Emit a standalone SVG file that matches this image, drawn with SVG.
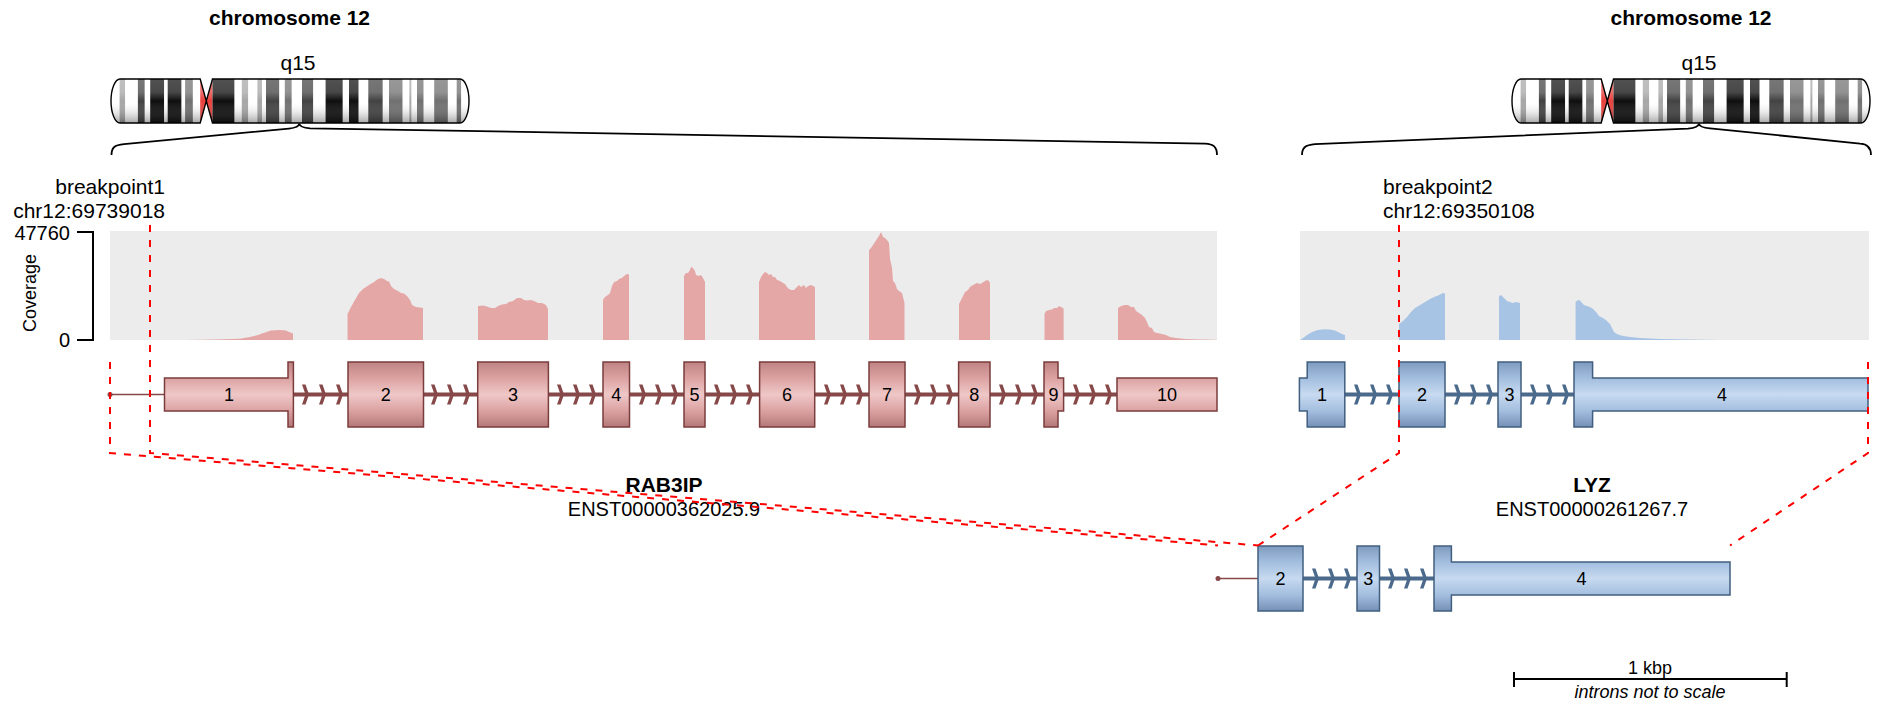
<svg xmlns="http://www.w3.org/2000/svg" width="1878" height="707" viewBox="0 0 1878 707">
<style>
text{font-family:"Liberation Sans",Arial,Helvetica,sans-serif;fill:#000}
.title{font-size:21px;font-weight:bold}
.lbl{font-size:21px}
.num{font-size:20px}
.gname{font-size:21px;font-weight:bold}
.tid{font-size:20px}
.ex{font-size:18px}
.small{font-size:18px}
.gneg{fill:#fff}.g25{fill:#a6a6a6}.g50{fill:#707070}.g75{fill:#424242}.g100{fill:#0e0e0e}.acen{fill:#e8403c}
.exR{fill:url(#gradR);stroke:#7a3c3c;stroke-width:1.5}
.exB{fill:url(#gradB);stroke:#415f80;stroke-width:1.5}
.intR{stroke:#864848;stroke-width:4}
.intB{stroke:#4c6a8c;stroke-width:4}
.lead{stroke:#864848;stroke-width:1.6}
.bp{fill:none;stroke:#ff0000;stroke-width:2;stroke-dasharray:7 8}
.brace{fill:none;stroke:#000;stroke-width:1.8}
.axis{fill:none;stroke:#000;stroke-width:2}
.covR{fill:#e5a6a6}.covB{fill:#a8c4e4}
.panel{fill:#ececec}
</style>
<defs>
  <linearGradient id="gradR" gradientUnits="userSpaceOnUse" x1="0" y1="362" x2="0" y2="427">
    <stop offset="0" stop-color="#bf8383"/><stop offset="0.25" stop-color="#dca2a2"/>
    <stop offset="0.5" stop-color="#efc7c7"/><stop offset="0.75" stop-color="#dca2a2"/>
    <stop offset="1" stop-color="#b37777"/>
  </linearGradient>
  <linearGradient id="gradB" gradientUnits="userSpaceOnUse" x1="0" y1="362" x2="0" y2="427">
    <stop offset="0" stop-color="#7e9bbf"/><stop offset="0.25" stop-color="#a3bedf"/>
    <stop offset="0.5" stop-color="#c7daf0"/><stop offset="0.75" stop-color="#a3bedf"/>
    <stop offset="1" stop-color="#7590b5"/>
  </linearGradient>
  <linearGradient id="shade" x1="0" y1="0" x2="0" y2="1">
    <stop offset="0" stop-color="#fff" stop-opacity="0.28"/>
    <stop offset="0.3" stop-color="#fff" stop-opacity="0.24"/>
    <stop offset="0.5" stop-color="#fff" stop-opacity="0"/>
    <stop offset="1" stop-color="#000" stop-opacity="0.35"/>
  </linearGradient>
  <path id="chromOutline" d="M120,79 H200.2 L206.3,101 L212.5,79 H460 A9,22 0 0 1 460,123 H212.5 L206.3,101 L200.2,123 H120 A9,22 0 0 1 120,79 Z"/>
  <clipPath id="chromClip"><use href="#chromOutline"/></clipPath>
  <path id="chev" d="M-6,-10 H-2.5 L1,0 L-2.5,10 H-6 L-2.5,0 Z"/>
  <!-- chromosome 12 ideogram, hg38 cytobands -->
  <g id="chr12">
    <g clip-path="url(#chromClip)">
      <rect class="gneg" x="111" y="79" width="8.6" height="44"/>
      <rect class="g25" x="119.6" y="79" width="5.6" height="44"/>
      <rect class="gneg" x="125.2" y="79" width="12.7" height="44"/>
      <rect class="g75" x="137.9" y="79" width="6.9" height="44"/>
      <rect class="gneg" x="144.8" y="79" width="5.4" height="44"/>
      <rect class="g100" x="150.2" y="79" width="14" height="44"/>
      <rect class="gneg" x="164.2" y="79" width="3.5" height="44"/>
      <rect class="g100" x="167.7" y="79" width="13.9" height="44"/>
      <rect class="gneg" x="181.6" y="79" width="3.5" height="44"/>
      <rect class="g50" x="185.1" y="79" width="7.8" height="44"/>
      <rect class="gneg" x="192.9" y="79" width="7.3" height="44"/>
      <rect class="acen" x="200.2" y="79" width="12.3" height="44"/>
      <rect class="g100" x="212.5" y="79" width="22.1" height="44"/>
      <rect class="gneg" x="234.6" y="79" width="7.2" height="44"/>
      <rect class="g25" x="241.8" y="79" width="6.5" height="44"/>
      <rect class="gneg" x="248.3" y="79" width="9.1" height="44"/>
      <rect class="g25" x="257.4" y="79" width="4.6" height="44"/>
      <rect class="gneg" x="262" y="79" width="4" height="44"/>
      <rect class="g75" x="266" y="79" width="13.4" height="44"/>
      <rect class="gneg" x="279.4" y="79" width="5.4" height="44"/>
      <rect class="g50" x="284.8" y="79" width="7" height="44"/>
      <rect class="gneg" x="291.8" y="79" width="10.2" height="44"/>
      <rect class="g75" x="302" y="79" width="11.3" height="44"/>
      <rect class="gneg" x="313.3" y="79" width="12.3" height="44"/>
      <rect class="g100" x="325.6" y="79" width="17.2" height="44"/>
      <rect class="gneg" x="342.8" y="79" width="6.2" height="44"/>
      <rect class="g100" x="349" y="79" width="9.7" height="44"/>
      <rect class="gneg" x="358.7" y="79" width="9.6" height="44"/>
      <rect class="g75" x="368.3" y="79" width="14.5" height="44"/>
      <rect class="gneg" x="382.8" y="79" width="6.2" height="44"/>
      <rect class="g50" x="389" y="79" width="13.7" height="44"/>
      <rect class="gneg" x="402.7" y="79" width="6.7" height="44"/>
      <rect class="g25" x="409.4" y="79" width="2.2" height="44"/>
      <rect class="gneg" x="411.6" y="79" width="5.4" height="44"/>
      <rect class="g50" x="417" y="79" width="6.7" height="44"/>
      <rect class="gneg" x="423.7" y="79" width="10.5" height="44"/>
      <rect class="g50" x="434.2" y="79" width="13.7" height="44"/>
      <rect class="gneg" x="447.9" y="79" width="8.8" height="44"/>
      <rect class="g50" x="456.7" y="79" width="4.6" height="44"/>
      <rect class="gneg" x="461.3" y="79" width="8.7" height="44"/>
      <rect x="111" y="79" width="359" height="44" fill="url(#shade)"/>
    </g>
    <use href="#chromOutline" fill="none" stroke="#000" stroke-width="1.4"/>
  </g>
</defs>

<!-- chromosome headers -->
<g id="ideogram-left">
  <text class="title" x="289.5" y="25" text-anchor="middle">chromosome 12</text>
  <text class="lbl" x="298" y="70" text-anchor="middle">q15</text>
  <use href="#chr12"/>
</g>
<g id="ideogram-right">
  <text class="title" x="1691" y="25" text-anchor="middle">chromosome 12</text>
  <text class="lbl" x="1699" y="70" text-anchor="middle">q15</text>
  <use href="#chr12" transform="translate(1401,0)"/>
</g>

<!-- coverage axis -->
<g id="coverage-axis">
  <path class="axis" d="M77,232 H93 V340 H77"/>
  <text class="num" x="70" y="240" text-anchor="end">47760</text>
  <text class="num" x="70" y="347" text-anchor="end">0</text>
  <text class="small" transform="translate(35.5,293) rotate(-90)" text-anchor="middle">Coverage</text>
</g>

<!-- RAB3IP coverage -->
<g id="coverage-rab3ip">
  <rect class="panel" x="110" y="231" width="1107" height="109"/>
  <polygon class="covR" points="184,340 215,339.6 240,338.8 250,337 258,335 265,332.5 271,330.6 280,330 286,330.4 289,332 293,333.5 293,340"/>
  <polygon class="covR" points="347.5,340 347.5,314 351,307 355,300 359,293 363,289 369,285 374,282 378,279 381,278 384,279 387,281 389,281.5 391,286 394,289 398,291 401,293 404,293.5 407,296 410,300 412,305 416,307 420,307.5 423,308 423,340"/>
  <polygon class="covR" points="478,340 478,306 483,305.5 487,306.5 491,308 495,308 498,306 502,304.5 506,304 509,302 513,301 517,298 521,298 524,300 527,300.5 531,300 534,301 538,303 542,303 546,305 548,309 548,340"/>
  <polygon class="covR" points="603,340 603,300 605,297 608,295 610,293 612,286 614,282 617,281 619,279 622,278 624,276 627,274 629,274.5 629,340"/>
  <polygon class="covR" points="684,340 684,276 686,273 688,273 690,270 691,267 693,268 695,271 696,275 699,276 701,275 703,278 705,282 705,340"/>
  <polygon class="covR" points="759,340 759,282 761,277 763,274 765,272 767,273 769,275 771,274 773,277 775,277 777,280 780,281 783,283 785,284 787,287 789,289 791,290 794,290 797,287 799,285 801,287 804,285 806,288 808,286 811,285 815,287 815,340"/>
  <polygon class="covR" points="869,340 869,250 871,248 873,245 875,242 877,239 879,236 881,232 883,237 885,238 887,240 889,243 890,259 892,268 893,281 895,283 897,289 899,291 902,293 904.5,303 904.5,340"/>
  <polygon class="covR" points="959,340 959,304 961,300 963,296 965,292 968,290 970,287 973,285 975,284 977,283 980,284 982,283 985,281 987,280 989,281 990,283 990,340"/>
  <polygon class="covR" points="1044.5,340 1044.5,314 1046,311 1049,310 1052,309.5 1054,308 1057,308 1059,306 1061,307 1063.6,308.5 1063.6,340"/>
  <polygon class="covR" points="1118,340 1118,308 1121,306 1125,305 1128,305 1131,307 1134,307 1136,311 1139,313 1142,315 1145,318 1147,322 1149,327 1152,328 1154,332 1157,333 1162,334 1166,335 1170,337 1176,338 1185,339 1200,339.5 1217,339.7 1217,340"/>
</g>

<!-- LYZ coverage -->
<g id="coverage-lyz">
  <rect class="panel" x="1300" y="231" width="569" height="109"/>
  <polygon class="covB" points="1300,340 1303,338 1307,335 1312,332 1318,330 1324,329.3 1330,329.5 1335,330.5 1339,332.5 1342,334 1345,335 1345,340"/>
  <polygon class="covB" points="1399,340 1399,324 1403,321 1407,317 1411,312 1415,308 1420,305 1425,302 1430,299 1434,297 1438,295.5 1441,294 1443,293 1445,293.5 1445,340"/>
  <polygon class="covB" points="1499,340 1499,296 1501,295 1503,297 1505,299 1507,301 1510,302 1513,303 1516,302 1518,302.5 1520,303 1520,340"/>
  <polygon class="covB" points="1575.6,340 1575.6,302 1578,300 1580,300.5 1582,303 1584,305 1587,306 1590,307 1593,309 1596,312 1599,316 1603,318 1607,321 1610,324 1612,328 1614,332 1617,334 1621,335.5 1628,336.8 1640,338 1660,339 1690,339.6 1720,339.9 1720,340"/>
</g>

<!-- RAB3IP transcript -->
<g id="gene-rab3ip">
  <circle cx="110" cy="394.5" r="2.5" fill="#864848"/>
  <line class="lead" x1="110" y1="394.5" x2="165" y2="394.5"/>
  <line class="intR" x1="293" y1="394.5" x2="1117" y2="394.5"/>
  <g fill="#864848">
    <use href="#chev" x="308" y="394.5"/><use href="#chev" x="325" y="394.5"/><use href="#chev" x="342" y="394.5"/>
    <use href="#chev" x="437" y="394.5"/><use href="#chev" x="453" y="394.5"/><use href="#chev" x="469" y="394.5"/>
    <use href="#chev" x="563" y="394.5"/><use href="#chev" x="579" y="394.5"/><use href="#chev" x="595" y="394.5"/>
    <use href="#chev" x="645" y="394.5"/><use href="#chev" x="661" y="394.5"/><use href="#chev" x="677" y="394.5"/>
    <use href="#chev" x="720" y="394.5"/><use href="#chev" x="736" y="394.5"/><use href="#chev" x="752" y="394.5"/>
    <use href="#chev" x="830" y="394.5"/><use href="#chev" x="846" y="394.5"/><use href="#chev" x="862" y="394.5"/>
    <use href="#chev" x="920" y="394.5"/><use href="#chev" x="936" y="394.5"/><use href="#chev" x="952" y="394.5"/>
    <use href="#chev" x="1005" y="394.5"/><use href="#chev" x="1021" y="394.5"/><use href="#chev" x="1037" y="394.5"/>
    <use href="#chev" x="1079" y="394.5"/><use href="#chev" x="1095" y="394.5"/><use href="#chev" x="1111" y="394.5"/>
  </g>
  <g id="rab3ip-exon1"><path class="exR" d="M164.5,378 H288 V362 H293.4 V427 H288 V411 H164.5 Z"/><text class="ex" x="229" y="401" text-anchor="middle">1</text></g>
  <g id="rab3ip-exon2"><rect class="exR" x="348" y="362" width="75.5" height="65"/><text class="ex" x="385.7" y="401" text-anchor="middle">2</text></g>
  <g id="rab3ip-exon3"><rect class="exR" x="477.7" y="362" width="70.7" height="65"/><text class="ex" x="513" y="401" text-anchor="middle">3</text></g>
  <g id="rab3ip-exon4"><rect class="exR" x="603" y="362" width="26.5" height="65"/><text class="ex" x="616.2" y="401" text-anchor="middle">4</text></g>
  <g id="rab3ip-exon5"><rect class="exR" x="684" y="362" width="21" height="65"/><text class="ex" x="694.5" y="401" text-anchor="middle">5</text></g>
  <g id="rab3ip-exon6"><rect class="exR" x="759.6" y="362" width="55.1" height="65"/><text class="ex" x="787" y="401" text-anchor="middle">6</text></g>
  <g id="rab3ip-exon7"><rect class="exR" x="869" y="362" width="36" height="65"/><text class="ex" x="887" y="401" text-anchor="middle">7</text></g>
  <g id="rab3ip-exon8"><rect class="exR" x="958.6" y="362" width="31.4" height="65"/><text class="ex" x="974.3" y="401" text-anchor="middle">8</text></g>
  <g id="rab3ip-exon9"><path class="exR" d="M1044,362 H1058 V378 H1063.6 V411 H1058 V427 H1044 Z"/><text class="ex" x="1053.5" y="401" text-anchor="middle">9</text></g>
  <g id="rab3ip-exon10"><rect class="exR" x="1117" y="378" width="100" height="33"/><text class="ex" x="1167" y="401" text-anchor="middle">10</text></g>
  <text class="gname" x="664" y="492" text-anchor="middle">RAB3IP</text>
  <text class="tid" x="664" y="516" text-anchor="middle">ENST00000362025.9</text>
</g>

<!-- LYZ transcript -->
<g id="gene-lyz">
  <line class="intB" x1="1345" y1="394.5" x2="1574" y2="394.5"/>
  <g fill="#4c6a8c">
    <use href="#chev" x="1360" y="394.5"/><use href="#chev" x="1376" y="394.5"/><use href="#chev" x="1392" y="394.5"/>
    <use href="#chev" x="1460" y="394.5"/><use href="#chev" x="1476" y="394.5"/><use href="#chev" x="1492" y="394.5"/>
    <use href="#chev" x="1536" y="394.5"/><use href="#chev" x="1552" y="394.5"/><use href="#chev" x="1568" y="394.5"/>
  </g>
  <g id="lyz-exon1"><path class="exB" d="M1299.4,378 H1307.2 V362 H1344.8 V427 H1307.2 V411 H1299.4 Z"/><text class="ex" x="1322" y="401" text-anchor="middle">1</text></g>
  <g id="lyz-exon2"><rect class="exB" x="1399" y="362" width="46" height="65"/><text class="ex" x="1422" y="401" text-anchor="middle">2</text></g>
  <g id="lyz-exon3"><rect class="exB" x="1498" y="362" width="23" height="65"/><text class="ex" x="1509.5" y="401" text-anchor="middle">3</text></g>
  <g id="lyz-exon4"><path class="exB" d="M1574,362 H1592.6 V378 H1868 V411 H1592.6 V427 H1574 Z"/><text class="ex" x="1722" y="401" text-anchor="middle">4</text></g>
  <text class="gname" x="1592" y="492" text-anchor="middle">LYZ</text>
  <text class="tid" x="1592" y="516" text-anchor="middle">ENST00000261267.7</text>
</g>

<!-- fusion transcript (same track geometry, shifted down) -->
<g id="fusion-transcript" transform="translate(0,184)">
  <circle cx="1218" cy="394.5" r="2.5" fill="#864848"/>
  <line class="lead" x1="1218" y1="394.5" x2="1258" y2="394.5"/>
  <line class="intB" x1="1303" y1="394.5" x2="1434" y2="394.5"/>
  <g fill="#4c6a8c">
    <use href="#chev" x="1318" y="394.5"/><use href="#chev" x="1334" y="394.5"/><use href="#chev" x="1350" y="394.5"/>
    <use href="#chev" x="1394" y="394.5"/><use href="#chev" x="1410" y="394.5"/><use href="#chev" x="1426" y="394.5"/>
  </g>
  <g id="fusion-exon2"><rect class="exB" x="1258" y="362" width="45" height="65"/><text class="ex" x="1280.5" y="401" text-anchor="middle">2</text></g>
  <g id="fusion-exon3"><rect class="exB" x="1357" y="362" width="22.5" height="65"/><text class="ex" x="1368.2" y="401" text-anchor="middle">3</text></g>
  <g id="fusion-exon4"><path class="exB" d="M1434,362 H1451.4 V378 H1730 V411 H1451.4 V427 H1434 Z"/><text class="ex" x="1581.5" y="401" text-anchor="middle">4</text></g>
</g>

<!-- breakpoint labels -->
<g id="breakpoint1-label">
  <text class="lbl" x="165" y="194" text-anchor="end">breakpoint1</text>
  <text class="lbl" x="165" y="218" text-anchor="end">chr12:69739018</text>
</g>
<g id="breakpoint2-label">
  <text class="lbl" x="1383" y="194">breakpoint2</text>
  <text class="lbl" x="1383" y="218">chr12:69350108</text>
</g>

<!-- scale bar -->
<g id="scale-bar">
  <path class="axis" d="M1514,679 H1786.7 M1514,672 V687 M1786.7,672 V687"/>
  <text class="small" x="1650" y="674" text-anchor="middle">1 kbp</text>
  <text class="small" x="1650" y="698" text-anchor="middle" font-style="italic">introns not to scale</text>
</g>

<!-- connectors: zoom braces and breakpoint guides -->
<g id="connectors">
  <path class="brace" d="M111.5,155 C111.5,148 114,145 124,144.2 L289,128.6 C296,127.9 299,126 299.3,123.5 C299.6,126 302.6,127.8 310,128.3 L1205,143.6 C1213.5,143.9 1217,147 1217,155"/>
  <path class="brace" d="M1302,155 C1302,148 1305,145 1315,144.2 L1688,128.6 C1695.7,127.9 1698.7,126 1699,123.5 C1699.3,126 1702.3,127.8 1710,128.3 L1860,143.6 C1867,144 1871,147.5 1871,155"/>
  <path class="bp" d="M110,362 V453 L1218,545.5"/>
  <path class="bp" d="M150,225 V453 L1258,545.5"/>
  <path class="bp" d="M1399,225 V453 L1258,545.5"/>
  <path class="bp" d="M1868,362 V453 L1730,545.5"/>
</g>
</svg>
